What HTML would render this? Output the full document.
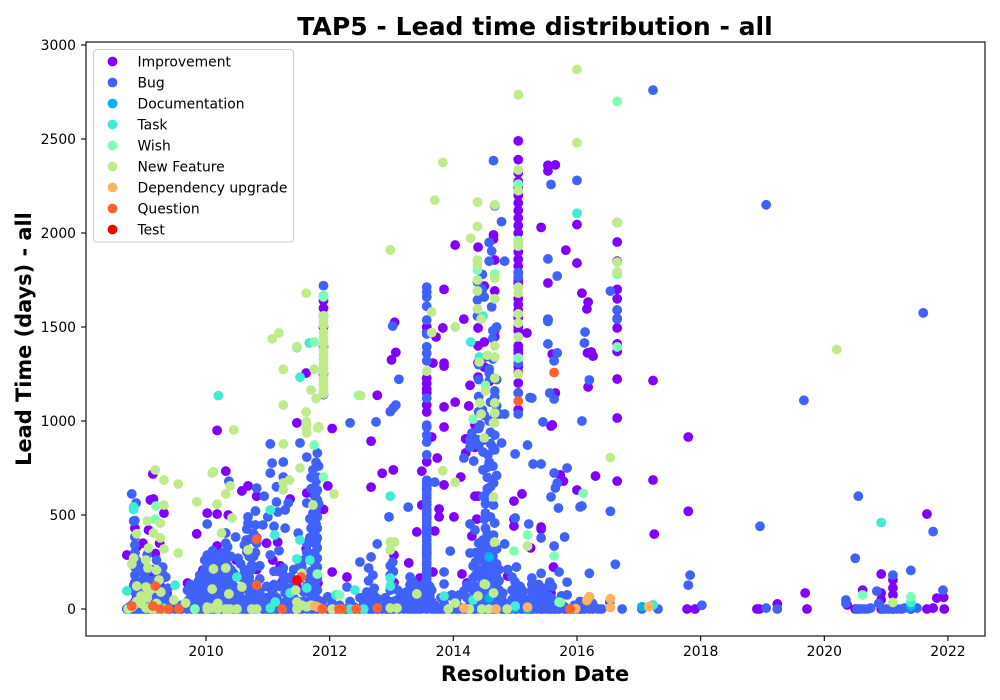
<!DOCTYPE html>
<html lang="en">
<head>
<meta charset="utf-8">
<title>TAP5 - Lead time distribution - all</title>
<style>
html,body{margin:0;padding:0;background:#fff;}
svg{display:block;font-family:"DejaVu Sans","Liberation Sans",sans-serif;}
</style>
</head>
<body>
<svg id="chart" xmlns="http://www.w3.org/2000/svg" width="1000" height="700" viewBox="0 0 1000 700">
  <rect x="0" y="0" width="1000" height="700" fill="#fff"/>
  <text x="535" y="35" text-anchor="middle" font-size="25.1" font-weight="bold" fill="#000">TAP5 - Lead time distribution - all</text>
  <g id="ticks"></g>
  <g id="marks"></g>
  <rect x="86" y="42" width="899" height="594" fill="none" stroke="#000" stroke-width="1.1"/>
  <text x="535" y="681" text-anchor="middle" font-size="20.9" font-weight="bold" fill="#000">Resolution Date</text>
  <text transform="translate(31,339) rotate(-90)" text-anchor="middle" font-size="20.9" font-weight="bold" fill="#000">Lead Time (days) - all</text>
  <g id="legend"></g>
</svg>
<script>
const xTickLabels = [2010, 2012, 2014, 2016, 2018, 2020, 2022];
const yTickLabels = [0, 500, 1000, 1500, 2000, 2500, 3000];
const seriesNames = ["Improvement", "Bug", "Documentation", "Task", "Wish", "New Feature", "Dependency upgrade", "Question", "Test"];
const seriesColors = ["#8000ff", "#4062fa", "#00b5eb", "#40ecd4", "#80ffb4", "#c0eb8d", "#ffb360", "#ff6230", "#ff0000"];

/* Each row: [resolution date in decimal years, [lead times in days]] */
const improvementRows = [
[2008.72,[287,0]],[2008.85,[430,300,140]],[2008.88,[330,60]],[2008.98,[350,120,20]],[2009.07,[420,180]],[2009.1,[580]],[2009.14,[718,40]],[2009.15,[585,200]],[2009.18,[295,90]],[2009.25,[350,130]],[2009.32,[510,70]],[2009.37,[85]],[2009.7,[138]],[2009.85,[400]],[2009.95,[207,60]],[2010.02,[510,190]],[2010.03,[250]],[2010.18,[950,505,335,165,40]],[2010.32,[733]],[2010.36,[500,90]],[2010.49,[260]],[2010.58,[628]],[2010.68,[655,130]],[2010.82,[600,378,210]],[2010.98,[350]],[2011.07,[96]],[2011.08,[260]],[2011.16,[356]],[2011.2,[230]],[2011.23,[143]],[2011.36,[585]],[2011.47,[990,120]],[2011.62,[1255,320]],[2011.63,[617,180]],[2011.73,[447]],[2011.81,[138]],[2011.9,[1640,1600,1500,1395,1250,530]],[2011.97,[655]],[2012.04,[960,197]],
[2012.28,[170]],[2012.67,[893,648]],[2012.77,[1137]],[2012.85,[722]],[2013.0,[1325]],[2013.03,[740]],[2013.04,[287,140]],[2013.05,[1525]],[2013.07,[1365]],[2013.28,[245]],[2013.41,[410]],[2013.46,[165]],[2013.49,[733,553]],[2013.57,[1500,1470,1228,1200,1170,1150,1085,1048,783,640,300,200]],[2013.65,[915]],[2013.67,[1308,197]],[2013.7,[415]],[2013.72,[1447]],[2013.74,[803]],[2013.77,[532,490]],[2013.83,[1495]],[2013.85,[1700,1308,1292,1075,968,660]],[2014.01,[490]],[2014.03,[1936,1100]],[2014.12,[702]],[2014.14,[186]],[2014.17,[1542]],[2014.2,[905,830]],[2014.22,[138]],[2014.25,[1080]],[2014.27,[1190]],[2014.3,[388,910]],[2014.35,[980,860,600]],[2014.38,[478]],[2014.4,[1925,1495,1400,1310,1234,600]],[2014.48,[362,900]],[2014.5,[1718,1420,1287,1030]],[2014.58,[1210,220]],[2014.65,[1990,1968,670]],[2014.67,[1856,1692,1480,1447,1040,40]],[2014.88,[175]],[2014.98,[574,478,441]],
[2015.05,[2490,2390,2320,2275,2240,2200,2160,2120,2080,2040,2000,1950,1900,1860,1824,1790,1750,1730,1650,1620,1590,1550,1500,1480,1400,1380,1360,1290,1260,1202,1150,1060]],[2015.11,[612,100]],[2015.19,[1468]],[2015.25,[325]],[2015.42,[2030,436,425]],[2015.44,[90]],[2015.53,[2360,2330,1734,1540]],[2015.58,[973,85]],[2015.6,[1356,979]],[2015.62,[223]],[2015.65,[2362,1149]],[2015.73,[713]],[2015.78,[680]],[2015.82,[1909]],[2016.0,[2045,1840,633]],[2016.08,[1680]],[2016.16,[1596]],[2016.17,[1362]],[2016.18,[1633,1181]],[2016.23,[1367]],[2016.26,[1345]],[2016.3,[707]],[2016.65,[2055,1952,1850,1700,1650,1590,1545,1495,1410,1370,1223,1016,680]],[2017.23,[1215,686]],[2017.25,[398]],[2017.8,[915,520]],[2017.78,[0]],[2017.91,[0]],[2018.91,[0]],[2018.95,[0]],[2019.24,[27]],[2019.69,[85]],[2019.72,[0]],[2020.37,[22]],[2020.5,[0]],[2020.62,[100]],[2020.92,[186,85,50,0]],[2021.11,[155,112,75,0]],[2021.4,[0]],[2021.66,[505,0]],[2021.76,[5]],[2021.82,[58]],[2021.93,[62]],[2021.94,[0]]
];
const bugRows = [
[2008.72,[0]],[2008.76,[0,10]],[2008.8,[612,20,0]],[2008.83,[468,270,125,0]],[2008.85,[470,383,340,300,223,180,90,40]],[2008.87,[564,260,150,0]],[2008.92,[230,60,0]],[2008.97,[30,0]],[2009.0,[160,0]],[2009.05,[290,100,0]],[2009.1,[40,0]],[2009.15,[130,0]],[2009.2,[260,70,0]],[2009.3,[223,185,100,0]],[2009.35,[170,30,0]],[2009.42,[50,0]],[2009.5,[0]],[2009.6,[20,0]],[2009.7,[100,40,0]],[2009.77,[85,0]],[2009.85,[30,0]],[2009.9,[180,90,0]],[2009.95,[130,40,0]],[2010.02,[452,287,245,150,70,0]],[2010.08,[200,100,20,0]],[2010.14,[170,60,0]],[2010.18,[287,230,120,0]],[2010.24,[190,40,0]],[2010.32,[404,350,298,260,210,90,0]],[2010.37,[680,70,0]],[2010.42,[150,0]],[2010.48,[383,50,0]],[2010.52,[270,90,0]],[2010.55,[64,0]],[2010.6,[30,0]],[2010.65,[367,160,0]],[2010.66,[425,303]],[2010.68,[490,457,120,0]],[2010.74,[234,210,60,0]],[2010.8,[521,447,300,0]],[2010.82,[643,350,70,0]],[2010.92,[447,40,0]],[2010.94,[600,0]],[2011.0,[490,20,0]],[2011.04,[878,723,287,0]],[2011.07,[776,100,0]],[2011.14,[650,569,60,0]],[2011.16,[516,0]],[2011.25,[782,702,218,180,138,0]],[2011.28,[527,430,85,0]],[2011.33,[564,60,0]],[2011.4,[120,0]],[2011.49,[404,40,0]],[2011.52,[883,240,160,0]],[2011.55,[223,0]],[2011.63,[808,564,350,300,120,0]],[2011.65,[350,298,100]],[2011.7,[700,640,430,200,60,0]],[2011.73,[740,640,510,420,270,30,0]],[2011.8,[830,633,580,490,430,378,325,270,223,160,100,50,0]],[2011.82,[968,760,700,560]],[2011.88,[40,0]],[2011.9,[1720,1560,1140]],[2011.97,[65,0]],[2012.04,[30,0]],[2012.1,[0]],[2012.16,[20,0]],[2012.25,[0]],[2012.28,[117,0]],[2012.33,[990,40,0]],[2012.4,[10,0]],[2012.49,[250,60,0]],[2012.55,[30,0]],[2012.63,[218,150,20,0]],[2012.67,[277,0]],[2012.7,[180,40,0]],[2012.75,[995]],[2012.77,[346,10,0]],[2012.78,[53,0]],[2012.85,[0]],[2012.92,[0]],[2012.96,[490,30,0]],[2012.98,[1050,230,180,100,0]],[2013.02,[1505,250,40]],[2013.03,[1070,200,120,0]],[2013.07,[1085]],[2013.12,[1222,0]],[2013.2,[20,0]],[2013.27,[542,40,0]],[2013.33,[130,70,0]],[2013.38,[120,60,20,0]],[2013.43,[90,30,0]],[2013.48,[70,20,0]],
[2013.57,[1712,1685,1660,1610,1537,1463,1395,1360,1320,1122,978,968,925,888,820,685,665,650,630,610,590,570,555,530,515,495,480,460,440,425,405,385,365,345,325,310,290,270,250,235,215,195,175,160,140,120,100,85,65,45,30,15,0]],[2013.65,[100,40,0]],[2013.7,[675,20,0]],[2013.75,[0]],[2013.8,[60,0]],[2013.85,[197,133,30,0]],[2013.95,[308,70,0]],[2013.98,[75,0]],[2014.05,[50,0]],[2014.1,[75,10,0]],[2014.17,[803,95,0]],[2014.22,[127,60,0]],[2014.27,[899,861,452,298,30,0]],[2014.3,[936]],[2014.32,[229,165,100,0]],[2014.33,[787]],[2014.35,[420,40,0]],[2014.39,[1740,1644,1558,900]],[2014.43,[979,207,120,0]],[2014.47,[1780,1700,1060]],[2014.48,[835,740,600,367,180,60,0]],[2014.5,[1660,1030,478,282,90,0]],[2014.56,[820,755,606,150,40,0]],[2014.58,[1950,1850,1277,1255,1000,782,290,20,0]],[2014.6,[490,110,0]],[2014.62,[1904,1607,245,70,0]],[2014.65,[2385,670,553,393,197,0]],[2014.67,[2145,1160,1128,925,846,457,130,0]],[2014.75,[1037]],[2014.78,[883,2060,60,0]],[2014.8,[85,0]],[2014.83,[1850,1037,346,30,0]],[2014.88,[210,0]],[2014.92,[20,0]],[2015.0,[825,484,143,75,0]],[2015.02,[223,20,0]],[2015.05,[2255,1790,1766,1308,1149,1037]],[2015.1,[0]],[2015.15,[50,0]],[2015.2,[872,20,0]],[2015.22,[452,0]],[2015.24,[1125,40,0]],[2015.27,[1122,165,130,100,65,0]],[2015.29,[771,10,0]],[2015.35,[30,0]],[2015.42,[771,378,190,70,0]],[2015.45,[995,40,0]],[2015.5,[20,0]],[2015.53,[1862,1542,1530,1410]],[2015.56,[1149,143,0]],[2015.58,[2258,596,60,0]],[2015.63,[1320,1117,723,335,20,0]],[2015.65,[644,0]],[2015.68,[1771,1362,670]],[2015.7,[537,30,0]],[2015.71,[197,0]],[2015.8,[383,10,0]],[2015.84,[750,143,75,0]],[2015.9,[0]],[2015.96,[20,0]],[2016.0,[2280,0]],[2016.05,[543,40,0]],[2016.08,[1000,548,10,0]],[2016.12,[1415,0]],[2016.13,[1473]],[2016.2,[1218,190,65,0]],[2016.25,[30,0]],[2016.3,[5]],[2016.34,[0]],[2016.4,[0]],[2016.53,[37]],[2016.54,[1691,520]],[2016.62,[238]],[2016.65,[1790,1590,1542]],[2016.73,[0]],[2017.05,[0]],[2017.23,[2760]],[2017.31,[0]],[2017.83,[180]],[2017.8,[127]],[2018.02,[20]],[2018.96,[440]],[2019.06,[2150,5]],[2019.24,[0]],[2019.67,[1110]],[2020.35,[48,30]],[2020.5,[270]],[2020.53,[0]],[2020.55,[600,0]],[2020.6,[0]],[2020.65,[0]],[2020.7,[0]],[2020.75,[5]],[2020.85,[95]],[2020.88,[30]],[2020.95,[0]],[2021.0,[0]],[2021.05,[0]],[2021.11,[180,0]],[2021.18,[0]],[2021.25,[0]],[2021.3,[5]],[2021.4,[205,0]],[2021.5,[5]],[2021.6,[1575]],[2021.76,[412]],[2021.92,[100]],
[2008.95,[200,130,90]],[2009.02,[170,130,70,20]],[2009.12,[210,150,80,20]],[2009.22,[180,120,50]],[2009.28,[160,60,20]],[2009.38,[110,60]],[2009.46,[30]],[2009.75,[130,60,20]],[2009.82,[90,50,15]],[2009.88,[150,110,60,20]],[2009.98,[260,210,170,120,80,30]],[2010.05,[280,220,160,110,60,25]],[2010.11,[310,250,190,140,90,45]],[2010.16,[290,190,140,70,25]],[2010.21,[250,170,130,80]],[2010.27,[300,240,180,130,70,20]],[2010.35,[330,230,170,110,50]],[2010.4,[280,210,140,70,25]],[2010.45,[190,120,60,30]],[2010.56,[240,170,100,30]],[2010.62,[340,210,110,50]],[2010.7,[370,280,170,90,30]],[2010.77,[400,280,130,80,25]],[2010.87,[230,160,90,40]],[2010.98,[120,60,25]],[2011.1,[440,200,130,70,30]],[2011.18,[310,200,120,40]],[2011.3,[160,110,40]],[2011.37,[170,90,30]],[2011.42,[210,140,60]],[2011.58,[260,180,90,40]],[2011.68,[480,380,260,150,90,40]],[2011.76,[600,550,470,400,350,300,240,190,130,80]],[2011.78,[780,680,620,530,450,360]],
[2012.6,[90,50]],[2012.72,[110,70,25]],[2012.9,[60,20]],[2013.1,[100,50,20]],[2013.15,[60,20]],[2013.24,[90,45,15]],[2013.3,[170,130,30]],[2013.36,[140,90,40,15]],[2013.41,[120,50,15]],[2013.45,[100,60,15]],[2013.52,[130,80,35,10]],[2013.62,[120,70,30,10]],
[2014.36,[300,250,180,120,70,25]],[2014.41,[1300,1220,1130,1050,960,870,350,270]],[2014.46,[320,260,160,90,30]],[2014.52,[1340,560,510,430,340,240,180,70]],[2014.55,[700,640,400,320,210,130]],[2014.6,[1230,1100,940,880,650,380,300,210,150,90]],[2014.64,[1480,1440,1330,1010,860,760,280,40]],[2014.7,[1500,1220,1080,1040,710,320,240,170,60]],[2014.74,[210,150,100,35]],[2014.95,[170,100,50]],[2015.08,[120,60,25]],[2015.13,[90,40]],[2015.32,[60,25]],[2015.38,[130,90,40]],[2015.47,[110,70,25]],[2015.53,[70,30]],[2015.6,[120,50,20]],[2015.75,[70,25]]
];
const documentationRows = [[2014.58,[277,58]],[2014.7,[0]],[2015.0,[5]],[2015.2,[0]],[2017.05,[12]],[2021.4,[15]],[2011.7,[20]],[2009.3,[10]]];
const taskRows = [[2008.72,[96]],[2008.83,[543,530]],[2009.5,[127]],[2010.2,[1135]],[2010.5,[170]],[2011.04,[527,5]],[2011.11,[394]],[2011.12,[37]],[2011.36,[85]],[2011.47,[1390,266]],[2011.52,[1233,367]],[2011.63,[112]],[2011.67,[1415]],[2011.68,[260]],[2011.9,[1665]],[2012.1,[75]],[2012.33,[0]],[2012.41,[100]],[2012.55,[0]],[2012.98,[600,165,122]],[2013.85,[69]],[2014.28,[1420]],[2014.32,[48]],[2014.42,[1340]],[2014.48,[1558]],[2015.0,[16]],[2016.0,[2105]],[2017.23,[22]],[2020.92,[460]],[2021.4,[35]]];
const wishRows = [[2009.18,[478]],[2009.19,[548]],[2009.82,[0]],[2011.75,[1420,872]],[2011.8,[186]],[2011.9,[702,1660]],[2012.16,[75]],[2012.47,[1137]],[2014.32,[1010]],[2014.39,[1803]],[2014.52,[1190,130]],[2014.67,[1782]],[2014.98,[308]],[2015.05,[2260,1960,1335]],[2015.2,[394]],[2015.63,[282]],[2015.71,[37]],[2015.73,[35]],[2016.1,[615]],[2016.65,[2700,1780,1394]],[2020.62,[75]],[2021.4,[65]]];
const newFeatureRows = [
[2008.74,[0]],[2008.8,[239,10]],[2008.83,[271,20]],[2008.88,[400,122,40]],[2008.95,[30,70]],[2009.03,[260,117,5]],[2009.05,[468,60]],[2009.06,[218]],[2009.07,[324,90]],[2009.12,[15,0]],[2009.15,[404,110]],[2009.18,[740,0]],[2009.2,[207,30]],[2009.24,[154]],[2009.26,[457,378]],[2009.27,[90]],[2009.32,[686,553,319,0]],[2009.48,[48]],[2009.55,[665,298]],[2009.67,[32]],[2009.85,[570]],[2010.02,[10,0]],[2010.1,[723,106,5]],[2010.12,[213,730]],[2010.18,[558,20]],[2010.19,[30,0]],[2010.25,[404]],[2010.32,[612,218,0]],[2010.37,[80]],[2010.39,[655,0]],[2010.42,[484]],[2010.45,[952]],[2010.5,[0]],[2010.58,[117]],[2010.68,[314]],[2010.74,[0]],[2010.82,[0]],[2011.07,[1437]],[2011.18,[1468]],[2011.25,[1275,1085,878,670,633]],[2011.35,[686]],[2011.45,[100]],[2011.47,[1395,37,0]],[2011.52,[750]],[2011.55,[190,20]],[2011.62,[1680,1048,995,963]],[2011.63,[979,936,12]],[2011.7,[1165,20]],[2011.73,[553]],[2011.75,[1275]],[2011.78,[1120]],[2011.81,[963]],[2011.82,[968]],[2011.88,[0]],
[2011.9,[1560,1530,1510,1470,1440,1410,1380,1350,1330,1300,1280,1260,1230,1210,1190,1165,1145]],[2012.04,[0]],[2012.07,[612]],[2012.5,[1135]],[2012.98,[1910,356,314,5]],[2013.05,[356]],[2013.09,[5]],[2013.41,[80]],[2013.57,[1265]],[2013.65,[1580,1470]],[2013.7,[2175]],[2013.83,[2375,735]],[2013.92,[0]],[2014.03,[1500,675,32]],[2014.26,[0]],[2014.28,[1972]],[2014.39,[2165,2035,1856,1830,1750,1692,1596]],[2014.4,[69]],[2014.42,[1314]],[2014.43,[1096]],[2014.45,[1542,1037]],[2014.46,[0]],[2014.5,[910,133]],[2014.52,[1160]],[2014.55,[1350]],[2014.58,[0]],[2014.65,[990,596,85]],[2014.67,[2150,1760,1650,1400,1340,1228,1096,1042,990,356]],[2014.87,[0]],[2015.05,[2735,2335,2225,1952,1930,1712,1680,1570,1521,1447,1250]],[2015.2,[335]],[2016.0,[2870,2480]],[2016.54,[805]],[2016.65,[2055,1845,1793]],[2020.2,[1380]],[2021.11,[35]]
];
const dependencyRows = [[2011.76,[16]],[2011.81,[10]],[2014.17,[5]],[2014.69,[0]],[2015.2,[10]],[2015.98,[2]],[2016.16,[45]],[2016.2,[65]],[2016.54,[55,8]],[2017.16,[12]]];
const questionRows = [[2008.8,[16]],[2009.14,[16]],[2009.18,[122]],[2009.26,[0]],[2009.39,[0]],[2009.56,[0]],[2010.82,[372,127]],[2011.23,[0]],[2011.54,[170]],[2011.88,[0]],[2012.15,[0]],[2012.2,[0]],[2012.43,[0]],[2012.77,[5]],[2015.05,[1106]],[2015.63,[1258]],[2015.89,[0]]];
const testRows = [[2011.47,[154]]];

const allSeriesRows = [improvementRows, bugRows, documentationRows, taskRows, wishRows, newFeatureRows, dependencyRows, questionRows, testRows];

const SVG_NS = "http://www.w3.org/2000/svg";
function xScale(date) { return 206 + (date - 2010) * 61.83; }
function yScale(days) { return 609 - days * 0.188; }
function make(tag, attrs, parent) {
  const el = document.createElementNS(SVG_NS, tag);
  for (const k in attrs) el.setAttribute(k, attrs[k]);
  parent.appendChild(el);
  return el;
}

const ticksGroup = document.getElementById("ticks");
xTickLabels.forEach(function (label) {
  const x = xScale(label);
  const line = make("line", { x1: x, x2: x, y1: 636, y2: 641, stroke: "#000", "stroke-width": 1.1 }, ticksGroup);
  
  
  const text = make("text", { x: x, y: 656, "text-anchor": "middle", "font-size": 13.9, fill: "#000" }, ticksGroup);
  text.textContent = label;
  
  
});
yTickLabels.forEach(function (label) {
  const y = yScale(label);
  const line = make("line", { x1: 81, x2: 86, y1: y, y2: y, stroke: "#000", "stroke-width": 1.1 }, ticksGroup);
  
  
  const text = make("text", { x: 76, y: y + 5, "text-anchor": "end", "font-size": 13.9, fill: "#000" }, ticksGroup);
  text.textContent = label;
  
  
});

const marksGroup = document.getElementById("marks");
allSeriesRows.forEach(function (rows, s) {
  const group = make("g", { fill: seriesColors[s] }, marksGroup);
  
  
  rows.forEach(function (row) {
    row[1].forEach(function (days) {
      const point = make("circle", { cx: xScale(row[0]), cy: yScale(days), r: 4.9 }, group);
      
      
    });
  });
});

const legendGroup = document.getElementById("legend");
const legendFrame = make("rect", { x: 93.5, y: 49.5, width: 200, height: 192.5, rx: 3.5, ry: 3.5, fill: "#fff", "fill-opacity": 0.8, stroke: "#ccc", "stroke-width": 1 }, legendGroup);


seriesNames.forEach(function (name, i) {
  const y = 61.5 + i * 21;
  const dot = make("circle", { cx: 112.5, cy: y, r: 4.9, fill: seriesColors[i] }, legendGroup);
  
  
  const text = make("text", { x: 137.5, y: y + 5, "font-size": 13.9, fill: "#000" }, legendGroup);
  text.textContent = name;
  
  
});
</script>
</body>
</html>
